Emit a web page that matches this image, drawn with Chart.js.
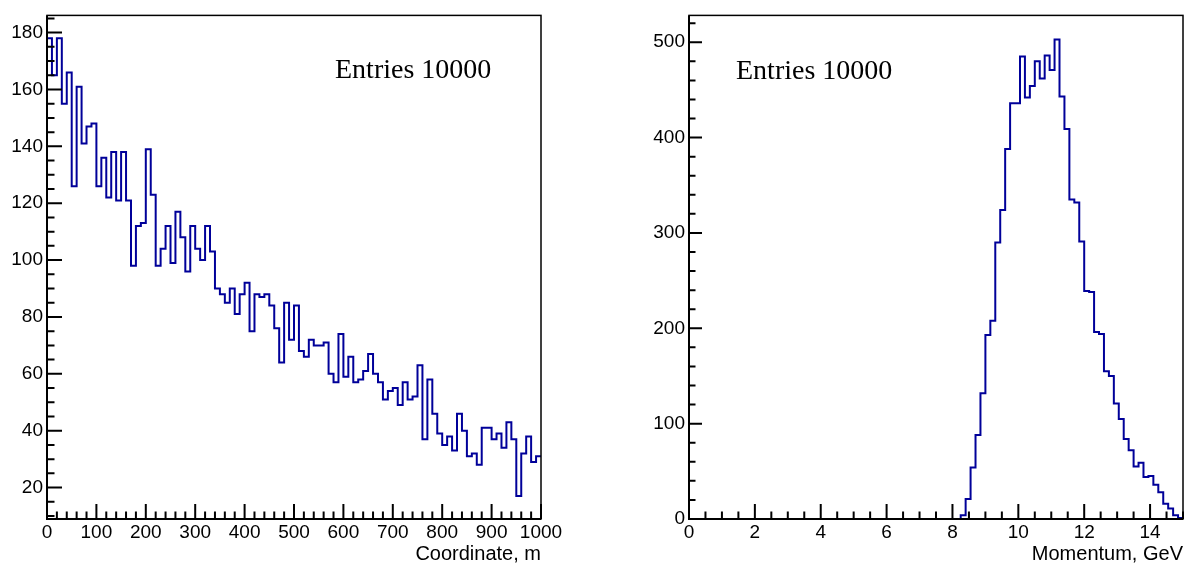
<!DOCTYPE html>
<html>
<head>
<meta charset="utf-8">
<title>Coordinate and momentum histograms</title>
<script src="https://cdn.jsdelivr.net/npm/chart.js@4.4.1/dist/chart.umd.min.js"></script>
<style>
    html, body { margin: 0; padding: 0; background: #fff; }
    #wrap { position: relative; width: 1197px; height: 570px; overflow: hidden; }
    #coordChart { position: absolute; left: 0; top: 0; }
    #momentumChart { position: absolute; left: 598px; top: 0; }
</style>
</head>
<body>
<div id="wrap">
    <canvas id="coordChart" width="598" height="570"></canvas>
    <canvas id="momentumChart" width="599" height="570"></canvas>
</div>
<script>
// left pad: coordinate, 100 bins of 10 m
const coordRange = [0, 1000];
const coordCounts = [
    178, 165, 178, 155, 166, 126, 161, 141, 147, 148,
    126, 136, 122, 138, 121, 138, 121, 98, 112, 113,
    139, 123, 98, 104, 112, 99, 117, 108, 96, 112,
    104, 100, 112, 103, 90, 88, 85, 90, 81, 88,
    92, 75, 88, 87, 88, 84, 76, 64, 85, 72,
    84, 68, 66, 72, 70, 70, 71, 60, 57, 74,
    59, 66, 57, 58, 61, 67, 60, 57, 51, 54,
    55, 49, 57, 51, 52, 63, 37, 58, 46, 39,
    35, 38, 33, 46, 40, 31, 32, 28, 41, 41,
    37, 39, 34, 43, 37, 17, 32, 38, 29, 31
];
const coordXTicks = [0, 100, 200, 300, 400, 500, 600, 700, 800, 900, 1000];
const coordYTicks = [20, 40, 60, 80, 100, 120, 140, 160, 180];

// right pad: momentum, 100 bins of 0.15 GeV
const momRange = [0, 15];
const momCounts = [
    0, 0, 0, 0, 0, 0, 0, 0, 0, 0,
    0, 0, 0, 0, 0, 0, 0, 0, 0, 0,
    0, 0, 0, 0, 0, 0, 0, 0, 0, 0,
    0, 0, 0, 0, 0, 0, 0, 0, 0, 0,
    0, 0, 0, 0, 0, 0, 0, 0, 0, 0,
    0, 0, 0, 0, 0, 4, 21, 54, 88, 132,
    193, 208, 290, 324, 388, 436, 436, 485, 442, 454,
    480, 462, 486, 471, 503, 443, 409, 335, 332, 291,
    239, 238, 196, 194, 155, 150, 121, 105, 84, 72,
    55, 59, 44, 45, 36, 28, 16, 11, 4, 1
];
const momXTicks = [0, 2, 4, 6, 8, 10, 12, 14];
const momYTicks = [0, 100, 200, 300, 400, 500];

const entriesText = 'Entries 10000';
const lineColor = 'rgb(0,0,153)';
const sansFont = '"Liberation Sans", Arial, sans-serif';

// ROOT style: 5% margin around min/max
function yLimits(counts, fromZero) {
    let lo = Math.min(...counts), hi = Math.max(...counts);
    if (fromZero) return [0, hi * 1.05];
    let m = 0.05 * (hi - lo);
    return [lo - m, hi + m];
}

// points on the left bin edges, plus closing point on the last edge
function histPoints(counts, range) {
    let w = (range[1] - range[0]) / counts.length;
    let pts = counts.map((c, i) => ({x: range[0] + i * w, y: c}));
    pts.push({x: range[1], y: counts[counts.length - 1]});
    return pts;
}

function stepValues(min, max, step) {
    let out = [];
    let start = Math.ceil(min / step - 1e-9) * step;
    for (let v = start; v <= max + 1e-9; v += step) out.push(Math.round(v * 1000) / 1000);
    return out;
}

const rootFrame = {
    id: 'rootFrame',
    afterDatasetsDraw(chart, args, opts) {
        let ctx = chart.ctx;
        let a = chart.chartArea;
        let x = chart.scales.x, y = chart.scales.y;
        ctx.save();
        ctx.strokeStyle = '#000';
        ctx.lineWidth = 1.5;
        ctx.strokeRect(a.left, a.top, a.right - a.left, a.bottom - a.top);

        ctx.lineWidth = 2;
        ctx.beginPath();
        ctx.moveTo(a.left, a.top);
        ctx.lineTo(a.left, a.bottom);
        ctx.lineTo(a.right, a.bottom);
        ctx.stroke();

        // inward ticks
        ctx.beginPath();
        stepValues(x.min, x.max, opts.xMinor).forEach(v => {
            let major = opts.xMajor.some(t => Math.abs(t - v) < 1e-6);
            let len = major ? opts.xMajorLen : opts.xMajorLen / 2;
            let px = x.getPixelForValue(v);
            ctx.moveTo(px, a.bottom);
            ctx.lineTo(px, a.bottom - len);
        });
        stepValues(y.min, y.max, opts.yMinor).forEach(v => {
            let major = opts.yMajor.some(t => Math.abs(t - v) < 1e-6);
            let len = major ? opts.yMajorLen : opts.yMajorLen / 2;
            let py = y.getPixelForValue(v);
            ctx.moveTo(a.left, py);
            ctx.lineTo(a.left + len, py);
        });
        ctx.stroke();

        ctx.fillStyle = '#000';
        ctx.font = '28px "Liberation Serif", "Times New Roman", serif';
        ctx.textAlign = 'left';
        ctx.textBaseline = 'alphabetic';
        ctx.fillText(entriesText, a.left + opts.textX, a.top + opts.textY);
        ctx.restore();
    }
};

function createHistogram(canvasId, counts, range, xTicks, yTicks, fromZero, title, frameOpts, padLeft, padRight) {
    let ylim = yLimits(counts, fromZero);
    let ctx = document.getElementById(canvasId).getContext('2d');
    return new Chart(ctx, {
        type: 'line',
        data: {
            datasets: [{
                data: histPoints(counts, range),
                stepped: true,
                borderColor: lineColor,
                borderWidth: 2,
                pointRadius: 0,
                fill: false
            }]
        },
        options: {
            responsive: false,
            animation: false,
            events: [],
            layout: {
                padding: {left: padLeft, right: padRight, top: 12, bottom: 0}
            },
            plugins: {
                legend: {display: false},
                tooltip: {enabled: false},
                rootFrame: frameOpts
            },
            scales: {
                x: {
                    type: 'linear',
                    min: range[0],
                    max: range[1],
                    bounds: 'data',
                    grid: {display: false, drawTicks: false},
                    border: {display: false},
                    ticks: {
                        autoSkip: false,
                        maxRotation: 0,
                        padding: 2,
                        color: '#000',
                        font: {family: sansFont, size: 19},
                        callback: v => String(v)
                    },
                    afterBuildTicks: s => { s.ticks = xTicks.map(v => ({value: v})); },
                    afterFit: s => { s.height = 51; },
                    title: {
                        display: true,
                        text: title,
                        align: 'end',
                        color: '#000',
                        font: {family: sansFont, size: 20},
                        padding: {top: 0, bottom: 4}
                    }
                },
                y: {
                    type: 'linear',
                    min: ylim[0],
                    max: ylim[1],
                    bounds: 'data',
                    grid: {display: false, drawTicks: false},
                    border: {display: false},
                    ticks: {
                        autoSkip: false,
                        padding: 4,
                        color: '#000',
                        font: {family: sansFont, size: 19},
                        callback: v => String(v)
                    },
                    afterBuildTicks: s => { s.ticks = yTicks.map(v => ({value: v})); },
                    afterFit: s => { s.width = 47; }
                }
            }
        },
        plugins: [rootFrame]
    });
}

createHistogram('coordChart', coordCounts, coordRange, coordXTicks, coordYTicks, false, 'Coordinate, m', {
    xMajor: coordXTicks, xMinor: 20, xMajorLen: 15,
    yMajor: coordYTicks, yMinor: 5, yMajorLen: 15,
    textX: 288, textY: 63
}, 0, 57);

createHistogram('momentumChart', momCounts, momRange, momXTicks, momYTicks, true, 'Momentum, GeV', {
    xMajor: momXTicks, xMinor: 0.5, xMajorLen: 15,
    yMajor: momYTicks, yMinor: 20, yMajorLen: 13,
    textX: 47, textY: 64
}, 44, 14);
</script>
</body>
</html>
